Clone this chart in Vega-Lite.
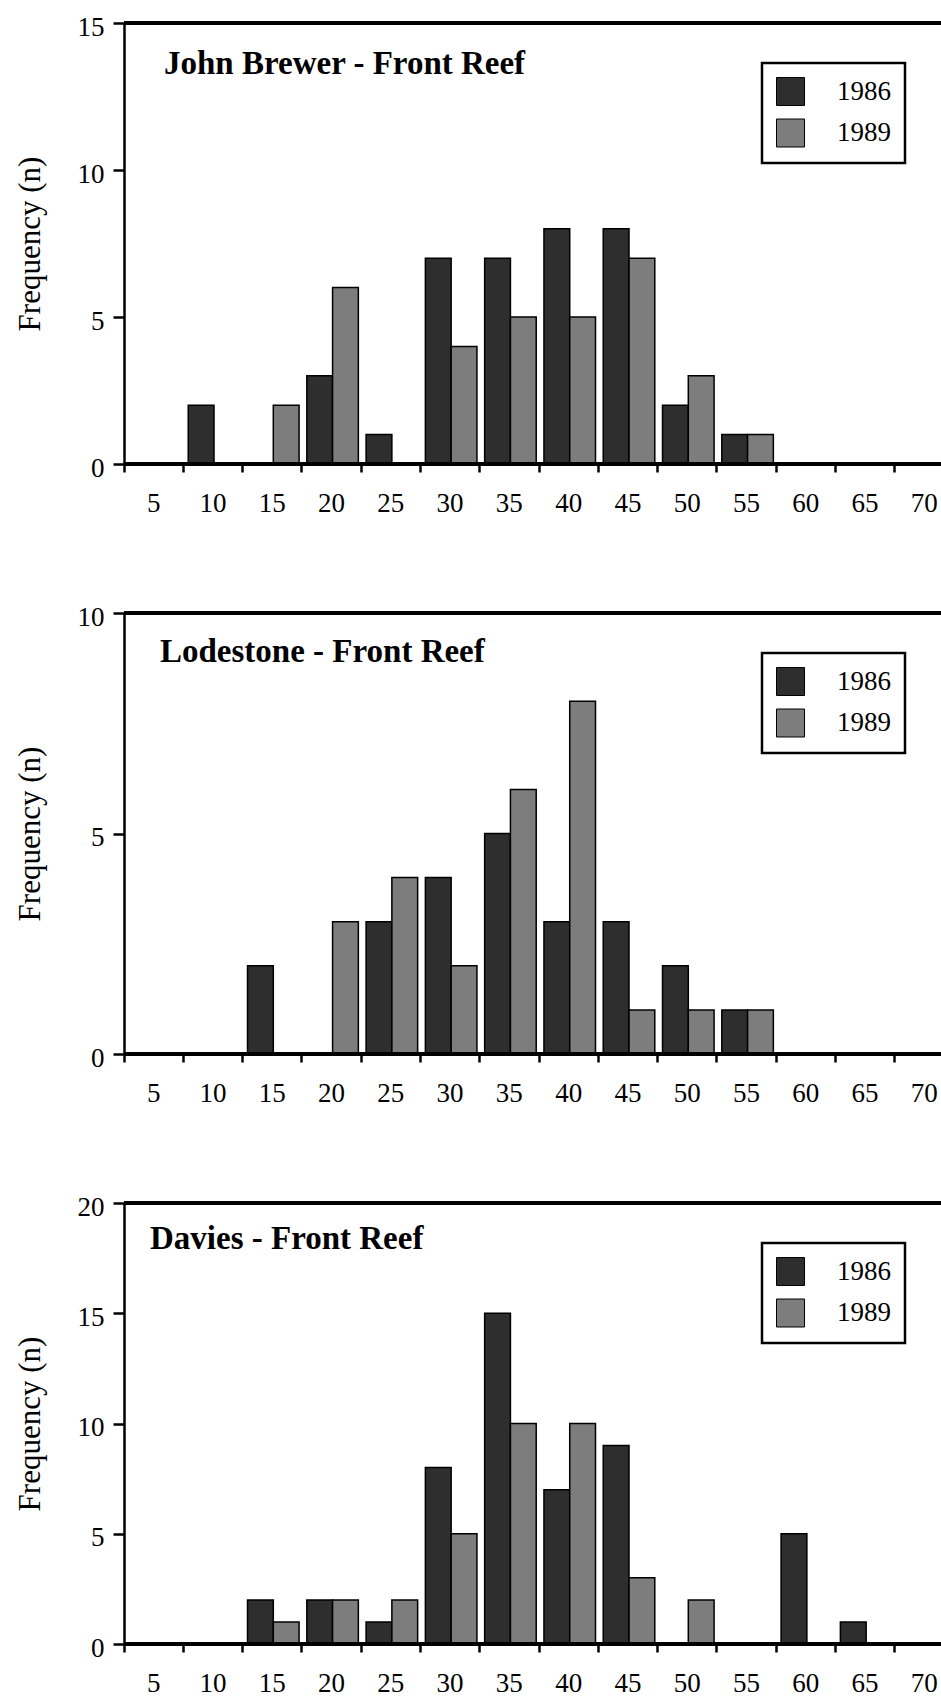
{
  "$schema": "https://vega.github.io/schema/vega-lite/v6.json",
  "padding": {"left": 14, "top": 13, "right": 0, "bottom": 0},
  "spacing": 149,
  "bounds": "flush",
  "background": "white",
  "config": {
    "view": {"stroke": null},
    "axis": {"grid": false, "labelColor": "black", "labelFont": "Liberation Serif", "labelFontSize": 27, "tickColor": "black", "tickWidth": 2.5, "domainColor": "black", "domainWidth": 2.5, "titleFont": "Liberation Serif", "titleFontSize": 31, "titleFontWeight": "normal", "titleColor": "black"},
    "title": {"font": "Liberation Serif", "fontSize": 33, "fontWeight": "bold", "color": "black", "anchor": "start", "frame": "group", "baseline": "alphabetic", "offset": 0},
    "legend": {"orient": "none", "legendX": 638, "legendY": 40, "title": null, "strokeColor": "black", "strokeWidth": 2.5, "fillColor": "white", "padding": 14, "symbolType": "square", "symbolSize": 784, "symbolStrokeColor": "black", "symbolStrokeWidth": 1, "symbolOpacity": 1, "labelFont": "Liberation Serif", "labelFontSize": 27, "labelColor": "black", "labelOffset": 32, "rowPadding": 8.5}
  },
  "resolve": {"scale": {"color": "independent"}, "legend": {"color": "independent"}},
  "vconcat": [
    {
      "width": 818, "height": 441,
      "title": {"text": "John Brewer - Front Reef", "dx": 40, "dy": 72},
      "data": {"values": [
        {"size": "10", "year": "1986", "n": 2},
        {"size": "20", "year": "1986", "n": 3},
        {"size": "25", "year": "1986", "n": 1},
        {"size": "30", "year": "1986", "n": 7},
        {"size": "35", "year": "1986", "n": 7},
        {"size": "40", "year": "1986", "n": 8},
        {"size": "45", "year": "1986", "n": 8},
        {"size": "50", "year": "1986", "n": 2},
        {"size": "55", "year": "1986", "n": 1},
        {"size": "15", "year": "1989", "n": 2},
        {"size": "20", "year": "1989", "n": 6},
        {"size": "30", "year": "1989", "n": 4},
        {"size": "35", "year": "1989", "n": 5},
        {"size": "40", "year": "1989", "n": 5},
        {"size": "45", "year": "1989", "n": 7},
        {"size": "50", "year": "1989", "n": 3},
        {"size": "55", "year": "1989", "n": 1}
      ]},
      "layer": [
        {
          "mark": {"type": "bar", "stroke": "black", "strokeWidth": 1.5},
          "encoding": {
            "x": {"field": "size", "type": "ordinal", "title": null,
              "scale": {"domain": ["5","10","15","20","25","30","35","40","45","50","55","60","65","70"], "range": [0, 830], "paddingInner": 0, "paddingOuter": 0},
              "axis": {"domain": false, "bandPosition": 0, "tickSize": 8, "labelPadding": 31, "labelBaseline": "middle", "labelAngle": 0}},
            "xOffset": {"field": "year", "type": "nominal", "scale": {"domain": ["1986","1989"], "paddingInner": 0, "paddingOuter": 0.15, "align": 0.64}},
            "y": {"field": "n", "type": "quantitative", "scale": {"domain": [0, 15], "nice": false},
              "axis": {"values": [0, 5, 10, 15], "title": "Frequency (n)", "titlePadding": 31, "tickSize": 11, "labelPadding": 9, "labelOffset": 4}},
            "color": {"field": "year", "type": "nominal", "scale": {"domain": ["1986","1989"], "range": ["#2e2e2e", "#7d7d7d"]}}
          }
        },
        {"mark": {"type": "rule", "color": "black", "strokeWidth": 2.5}, "encoding": {"y": {"datum": 15}}},
        {"mark": {"type": "rule", "color": "black", "strokeWidth": 2.5}, "encoding": {"y": {"datum": 0}}}
      ]
    },
    {
      "width": 818, "height": 441,
      "title": {"text": "Lodestone - Front Reef", "dx": 36, "dy": 70},
      "data": {"values": [
        {"size": "15", "year": "1986", "n": 2},
        {"size": "25", "year": "1986", "n": 3},
        {"size": "30", "year": "1986", "n": 4},
        {"size": "35", "year": "1986", "n": 5},
        {"size": "40", "year": "1986", "n": 3},
        {"size": "45", "year": "1986", "n": 3},
        {"size": "50", "year": "1986", "n": 2},
        {"size": "55", "year": "1986", "n": 1},
        {"size": "20", "year": "1989", "n": 3},
        {"size": "25", "year": "1989", "n": 4},
        {"size": "30", "year": "1989", "n": 2},
        {"size": "35", "year": "1989", "n": 6},
        {"size": "40", "year": "1989", "n": 8},
        {"size": "45", "year": "1989", "n": 1},
        {"size": "50", "year": "1989", "n": 1},
        {"size": "55", "year": "1989", "n": 1}
      ]},
      "layer": [
        {
          "mark": {"type": "bar", "stroke": "black", "strokeWidth": 1.5},
          "encoding": {
            "x": {"field": "size", "type": "ordinal", "title": null,
              "scale": {"domain": ["5","10","15","20","25","30","35","40","45","50","55","60","65","70"], "range": [0, 830], "paddingInner": 0, "paddingOuter": 0},
              "axis": {"domain": false, "bandPosition": 0, "tickSize": 8, "labelPadding": 31, "labelBaseline": "middle", "labelAngle": 0}},
            "xOffset": {"field": "year", "type": "nominal", "scale": {"domain": ["1986","1989"], "paddingInner": 0, "paddingOuter": 0.15, "align": 0.64}},
            "y": {"field": "n", "type": "quantitative", "scale": {"domain": [0, 10], "nice": false},
              "axis": {"values": [0, 5, 10], "title": "Frequency (n)", "titlePadding": 31, "tickSize": 11, "labelPadding": 9, "labelOffset": 4}},
            "color": {"field": "year", "type": "nominal", "scale": {"domain": ["1986","1989"], "range": ["#2e2e2e", "#7d7d7d"]}}
          }
        },
        {"mark": {"type": "rule", "color": "black", "strokeWidth": 2.5}, "encoding": {"y": {"datum": 10}}},
        {"mark": {"type": "rule", "color": "black", "strokeWidth": 2.5}, "encoding": {"y": {"datum": 0}}}
      ]
    },
    {
      "width": 818, "height": 441,
      "title": {"text": "Davies - Front Reef", "dx": 26, "dy": 67},
      "data": {"values": [
        {"size": "15", "year": "1986", "n": 2},
        {"size": "20", "year": "1986", "n": 2},
        {"size": "25", "year": "1986", "n": 1},
        {"size": "30", "year": "1986", "n": 8},
        {"size": "35", "year": "1986", "n": 15},
        {"size": "40", "year": "1986", "n": 7},
        {"size": "45", "year": "1986", "n": 9},
        {"size": "60", "year": "1986", "n": 5},
        {"size": "65", "year": "1986", "n": 1},
        {"size": "15", "year": "1989", "n": 1},
        {"size": "20", "year": "1989", "n": 2},
        {"size": "25", "year": "1989", "n": 2},
        {"size": "30", "year": "1989", "n": 5},
        {"size": "35", "year": "1989", "n": 10},
        {"size": "40", "year": "1989", "n": 10},
        {"size": "45", "year": "1989", "n": 3},
        {"size": "50", "year": "1989", "n": 2}
      ]},
      "layer": [
        {
          "mark": {"type": "bar", "stroke": "black", "strokeWidth": 1.5},
          "encoding": {
            "x": {"field": "size", "type": "ordinal", "title": null,
              "scale": {"domain": ["5","10","15","20","25","30","35","40","45","50","55","60","65","70"], "range": [0, 830], "paddingInner": 0, "paddingOuter": 0},
              "axis": {"domain": false, "bandPosition": 0, "tickSize": 8, "labelPadding": 31, "labelBaseline": "middle", "labelAngle": 0}},
            "xOffset": {"field": "year", "type": "nominal", "scale": {"domain": ["1986","1989"], "paddingInner": 0, "paddingOuter": 0.15, "align": 0.64}},
            "y": {"field": "n", "type": "quantitative", "scale": {"domain": [0, 20], "nice": false},
              "axis": {"values": [0, 5, 10, 15, 20], "title": "Frequency (n)", "titlePadding": 31, "tickSize": 11, "labelPadding": 9, "labelOffset": 4}},
            "color": {"field": "year", "type": "nominal", "scale": {"domain": ["1986","1989"], "range": ["#2e2e2e", "#7d7d7d"]}}
          }
        },
        {"mark": {"type": "rule", "color": "black", "strokeWidth": 2.5}, "encoding": {"y": {"datum": 20}}},
        {"mark": {"type": "rule", "color": "black", "strokeWidth": 2.5}, "encoding": {"y": {"datum": 0}}}
      ]
    }
  ]
}
